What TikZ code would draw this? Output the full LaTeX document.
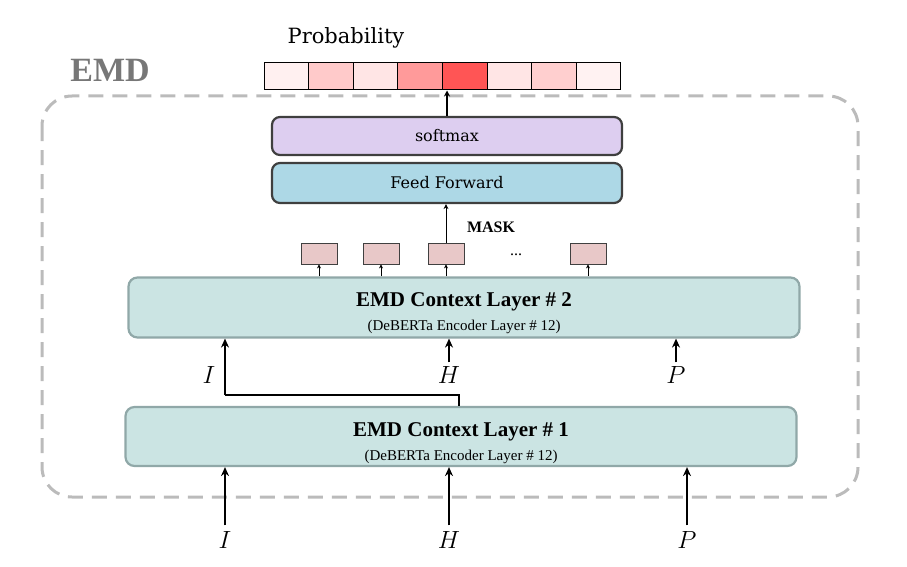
\documentclass[tikz,border=0pt]{standalone}
\usepackage{fontspec}
\setmainfont{Liberation Serif}
\newfontfamily\serifancha{DejaVu Serif}
\usepackage{tikz}
\usetikzlibrary{arrows.meta}
\definecolor{pA}{HTML}{FFF0F0}
\definecolor{pB}{HTML}{FFCACA}
\definecolor{pC}{HTML}{FFE5E5}
\definecolor{pD}{HTML}{FF9A9A}
\definecolor{pE}{HTML}{FF5555}
\definecolor{pF}{HTML}{FFE5E5}
\definecolor{pG}{HTML}{FFCFCF}
\definecolor{pH}{HTML}{FFF2F2}
\definecolor{lila}{HTML}{DDCEF0}
\definecolor{celeste}{HTML}{ADD8E6}
\definecolor{borde}{HTML}{3F3F3F}
\definecolor{ctxfondo}{HTML}{CBE4E3}
\definecolor{ctxborde}{HTML}{90A8A8}
\definecolor{tokfondo}{HTML}{E8C8C8}
\definecolor{grisemd}{HTML}{777777}
\definecolor{grismarco}{HTML}{BBBBBB}

\begin{document}
\begin{tikzpicture}[>=Stealth, x=1pt, y=-1pt,
    capa/.style={draw=ctxborde, fill=ctxfondo, line width=2.2pt, rounded corners=9pt,
        minimum width=671pt, minimum height=60pt, align=center, inner sep=0pt},
    cabeza/.style={draw=borde, line width=2.2pt, rounded corners=8pt,
        minimum width=350pt, minimum height=38pt, font=\serifancha\fontsize{16}{19}\selectfont},
    celda/.style={draw, line width=1pt, minimum width=44.6pt, minimum height=27pt, inner sep=0pt},
    token/.style={draw=black!75, fill=tokfondo, line width=0.8pt,
        minimum width=36pt, minimum height=21pt, inner sep=0pt},
    entrada/.style={font=\fontsize{26}{26}\selectfont, inner sep=4pt},
    grueso/.style={line width=2.4pt, -{Stealth[length=9pt,width=8pt]}},
    fino/.style={line width=0.8pt, -{Stealth[length=4pt,width=4pt]}}
]
\useasboundingbox (0,0) rectangle (907,567);

% Marco EMD
\draw[grismarco, line width=3pt, dash pattern=on 15pt off 9pt, rounded corners=30pt]
    (42,96) rectangle (858,497);
\node[text=grisemd, font=\fontsize{34}{34}\selectfont\bfseries] (emd) at (110,70) {EMD};

% Probabilidades
\node[font=\serifancha\fontsize{21}{24}\selectfont] (prob) at (346,38) {Probability};
\foreach \c [count=\i] in {pA,pB,pC,pD,pE,pF,pG,pH}{
    \node[celda, fill=\c] (p\i) at ({264+44.6*(\i-0.5)},76.5) {};
}

% Cabezas
\node[cabeza, fill=lila, minimum height=38pt] (soft) at (447,136) {softmax};
\node[cabeza, fill=celeste, minimum height=40pt] (ff) at (447,183) {Feed Forward};
\draw[line width=1.6pt, -{Stealth[length=6pt,width=6pt]}] (soft.north) -- (soft.north |- p5.south);

% Capas de contexto
\node[capa] (ctx2) at (464,307.5) {\rule{0pt}{26pt}{\fontsize{21}{24}\selectfont\bfseries EMD Context Layer \# 2}\\[8pt]
    {\fontsize{15}{16}\selectfont (DeBERTa Encoder Layer \# 12)}};
\node[capa, minimum height=59pt] (ctx1) at (461,436.5) {\rule{0pt}{28pt}{\fontsize{21}{24}\selectfont\bfseries EMD Context Layer \# 1}\\[8pt]
    {\fontsize{15}{16}\selectfont (DeBERTa Encoder Layer \# 12)}};

% Tokens
\foreach \x [count=\i] in {319,381,446,588}{
    \node[token] (tk\i) at (\x,253.5) {};
    \draw[fino] (tk\i.south |- ctx2.north) -- (tk\i.south);
}
\node[font=\fontsize{16}{16}\selectfont] (puntos) at (516,255) {...};
\draw[line width=1pt, -{Stealth[length=5pt,width=5pt]}] (tk3.north) -- (tk3.north |- ff.south);
\node[font=\fontsize{16}{16}\selectfont\bfseries] (mask) at (491,227) {MASK};

% Entradas capa 2
\node[entrada] (i2) at (209,375) {$I$};
\node[entrada] (h2) at (449,375) {$H$};
\node[entrada] (pp2) at (676,375) {$P$};
\draw[grueso] (h2.north) -- (h2.north |- ctx2.south);
\draw[grueso] (pp2.north) -- (pp2.north |- ctx2.south);
\coordinate (salida) at (459,0);
\coordinate (codo) at (225,395);
\draw[line width=2.4pt] (ctx1.north -| salida) |- (codo);
\draw[grueso] (codo) -- (codo |- ctx2.south);

% Entradas capa 1
\node[entrada] (i1) at (225,540) {$I$};
\node[entrada] (h1) at (449,540) {$H$};
\node[entrada] (pp1) at (687,540) {$P$};
\foreach \n in {i1,h1,pp1}{
    \draw[grueso] ([yshift=2pt]\n.north) -- (\n.north |- ctx1.south);
}

\end{tikzpicture}
\end{document}
